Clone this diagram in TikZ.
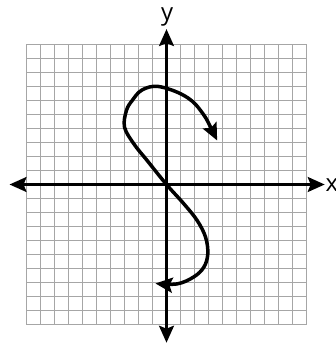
\documentclass[tikz,border=0pt]{standalone}
\usepackage{fontspec}
\setmainfont{Open Sans}
\usetikzlibrary{arrows.meta}
\tikzset{
  gridline/.style={draw=gray!70, line width=1bp},
  axisline/.style={draw=black, line width=2.5bp, {Stealth[length=17bp,width=15bp,inset=3bp]}-{Stealth[length=17bp,width=15bp,inset=3bp]}},
  curveline/.style={draw=black, line width=3.5bp, line cap=round, line join=round, {Stealth[length=17bp,width=15bp,inset=3bp]}-{Stealth[length=17bp,width=15bp,inset=3bp]}},
  axislabel/.style={inner sep=0pt, font=\fontsize{24}{24}\selectfont}
}
\begin{document}
\begin{tikzpicture}[x=14bp,y=14bp]
\useasboundingbox (-166.5bp,-161.5bp) rectangle (169.5bp,184.5bp);
\fill[white] (-166.5bp,-161.5bp) rectangle (169.5bp,184.5bp);
\foreach \k in {-10,...,10} {
  \draw[gridline] (\k,-10) -- (\k,10);
  \draw[gridline] (-10,\k) -- (10,\k);
}
\coordinate (xl) at (-11.21,0);
\coordinate (xr) at (11.3,0);
\coordinate (yt) at (0,11.1);
\coordinate (yb) at (0,-11.3);
\draw[axisline] (xl) -- (xr);
\draw[axisline] (yb) -- (yt);
\node[axislabel, anchor=base] (ylab) at (0.04,11.72) {y};
\node[axislabel, anchor=base west] (xlab) at (11.35,-0.53) {x};
\draw[curveline] plot[smooth, tension=0.6] coordinates {
  (3.62,3.14) (2.43,5.29) (1.24,6.36) (-0.57,7.0) (-1.75,6.75) (-2.45,6.0)
  (-2.86,5.29) (-3.0,4.1) (-2.33,2.9) (-1.38,1.71) (0,0)
  (1.24,-1.38) (2.19,-2.57) (2.79,-3.76) (2.95,-4.95) (2.67,-5.9)
  (1.95,-6.6) (0.76,-7.1) (-0.79,-7.07)};
\end{tikzpicture}
\end{document}
